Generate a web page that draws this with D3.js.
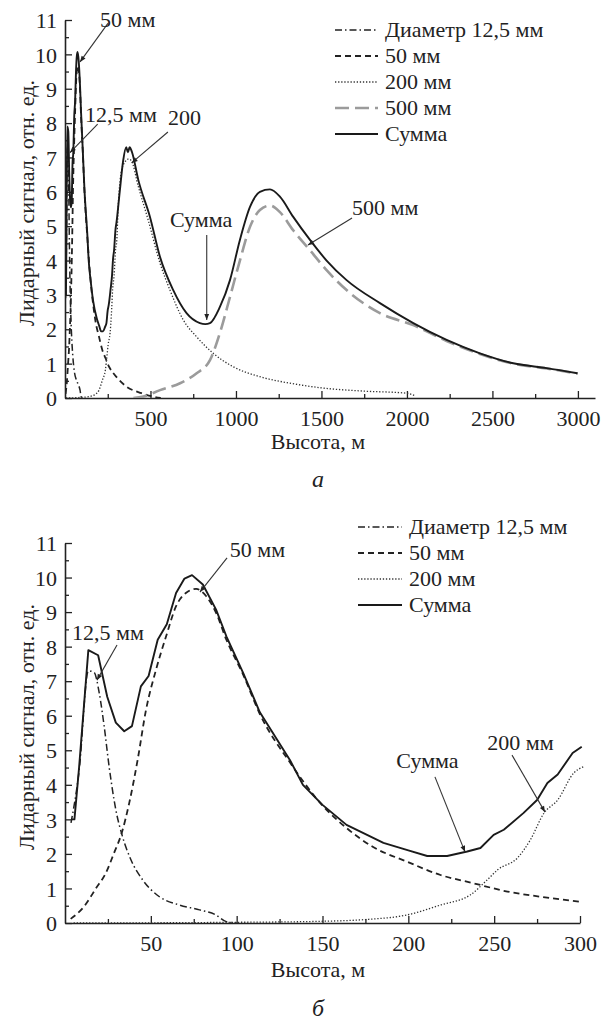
<html><head><meta charset="utf-8"><script src="https://d3js.org/d3.v7.min.js"></script></head>
<body style="margin:0">
<script>
// ---- data (height in m, signal in rel. units) ----
// panel б (0..300 m)
const sumB = [[3.5,3.0],[5.5,3.0],[8.2,4.5],[13.6,7.9],[19.3,7.75],[24.6,6.55],[29.6,5.8],[34.5,5.55],[39,5.7],
  [44.2,6.85],[48.7,7.15],[54,8.2],[59.3,8.65],[64.7,9.55],[69.6,9.97],[74,10.07],[80.3,9.8],[88,9.07],[94,8.3],
  [103.7,7.25],[113.5,6.1],[131,4.72],[138.6,4.0],[150,3.42],[164,2.84],[185.5,2.32],[200,2.1],[211,1.94],
  [222.6,1.94],[234.3,2.07],[242,2.17],[249.7,2.55],[255.6,2.7],[267,3.18],[275,3.56],[281,4.05],[287,4.3],
  [295.7,4.92],[301,5.1]];
const d125B = [[3.5,2.9],[8.2,4.4],[13.6,7.3],[17,7.25],[19.9,6.67],[22.8,5.7],[25.7,4.53],[29.6,3.28],[33.5,2.5],
  [38.4,1.83],[45.2,1.25],[55,0.76],[66.7,0.52],[78.4,0.38],[88,0.23],[94,0.04],[100,0.0]];
const d50B = [[3.3,0.12],[11,0.47],[18,1.0],[23.8,1.45],[28.6,2.03],[33,2.6],[37.4,3.47],[42.3,4.72],[47.2,6.17],
  [53,7.33],[58.9,8.3],[64.7,9.17],[70.6,9.56],[76.4,9.67],[82.3,9.46],[88,8.98],[94,8.2],[103.7,7.2],[113.5,6.05],
  [131,4.65],[150,3.4],[164,2.75],[179.5,2.2],[199,1.78],[218.7,1.39],[238,1.15],[257.7,0.91],[277,0.76],[299.4,0.62]];
const d200B = [[5,0.0],[100,0.02],[150,0.05],[175,0.1],[199,0.23],[218.7,0.52],[236,0.81],[246,1.25],[252,1.54],
  [263.5,1.88],[271,2.4],[279,3.18],[287,3.56],[296.5,4.35],[302,4.52]];

// panel а (0..3000 m): first 300 m as in panel б, then these tails
const sumTailA = [[320,6.0],[340,6.9],[358,7.3],[368,7.15],[378,7.3],[392,7.15],[429,6.34],[497,5.27],[556,4.1],
  [633,3.14],[711,2.47],[789,2.18],[820,2.15],[848,2.18],[906,2.65],[965,3.43],[1023,4.6],[1082,5.56],[1140,6.0],
  [1199,6.07],[1257,5.86],[1335,5.27],[1433,4.6],[1530,4.0],[1647,3.43],[1842,2.76],[2037,2.18],[2232,1.69],
  [2427,1.3],[2622,1.01],[2817,0.87],[2998,0.72]];
const d50TailA = [[360,0.33],[448,0.14],[507,0.05],[560,0.0]];
const d200TailA = [[312,5.65],[331,6.63],[351,6.87],[370,6.95],[386,6.92],[429,6.15],[487,5.17],[556,3.92],
  [614,3.14],[692,2.27],[770,1.78],[867,1.3],[984,0.91],[1140,0.62],[1316,0.43],[1509,0.29],[1750,0.2],
  [1998,0.14],[2050,0.06]];
const d500A = [[400,0.0],[458,0.04],[556,0.23],[673,0.43],[770,0.72],[848,1.1],[906,1.89],[965,2.94],[1023,4.0],
  [1082,4.98],[1140,5.47],[1199,5.6],[1257,5.41],[1335,4.88],[1433,4.3],[1530,3.72],[1647,3.14],[1842,2.47],
  [2037,2.12],[2232,1.66],[2427,1.28],[2622,1.0],[2817,0.86],[2998,0.71]];

const yTicks = [0,1,2,3,4,5,6,7,8,9,10,11];
const yMinor = [0.5,1.5,2.5,3.5,4.5,5.5,6.5,7.5,8.5,9.5,10.5];
const xTicksA = [500,1000,1500,2000,2500,3000];
const xMinorA = [250,750,1250,1750,2250,2750];
const xTicksB = [50,100,150,200,250,300];
const xMinorB = [25,75,125,175,225,275];

const legendA = ["Диаметр 12,5 мм", "50 мм", "200 мм", "500 мм", "Сумма"];
const legendB = ["Диаметр 12,5 мм", "50 мм", "200 мм", "Сумма"];

// annotations in data units: text position, line from -> to
const notesA = [
  { t: "50 мм",   x: 205, y: 10.8, x1: 251, y1: 10.9, x2: 88,  y2: 9.78 },
  { t: "12,5 мм", x: 117, y: 8.03, x1: 191, y1: 7.97, x2: 29,  y2: 7.14 },
  { t: "200",     x: 602, y: 7.94, x1: 602, y1: 7.74, x2: 390, y2: 6.84 },
  { t: "Сумма",   x: 614, y: 4.98, x1: 829, y1: 4.74, x2: 829, y2: 2.27 },
  { t: "500 мм",  x: 1679, y: 5.33, x1: 1679, y1: 5.24, x2: 1421, y2: 4.45 }
];
const notesB = [
  { t: "50 мм",   x: 96,  y: 10.6, x1: 94.4, y1: 10.57, x2: 78.6, y2: 9.58 },
  { t: "12,5 мм", x: 4.1, y: 8.19, x1: 30.3, y1: 8.05, x2: 18.6, y2: 7.03 },
  { t: "Сумма",   x: 193, y: 4.49, x1: 215.5, y1: 4.23, x2: 233, y2: 2.06 },
  { t: "200 мм",  x: 246, y: 5.01, x1: 260.4, y1: 4.86, x2: 279.6, y2: 3.21 }
];

// ---- styles ----
const styles = {
  d125: { stroke: "#222", width: 1.5, dash: "7,3,1.5,3" },
  d50:  { stroke: "#222", width: 1.8, dash: "6,4" },
  d200: { stroke: "#333", width: 1.3, dash: "1.3,1.8" },
  d500: { stroke: "#9b9b9b", width: 2.6, dash: "14,6" },
  sum:  { stroke: "#1a1a1a", width: 1.9, dash: null }
};
const fs = 22;

const width = 606, height = 1021;
const svg = d3.select("body").append("svg")
  .attr("width", width).attr("height", height)
  .style("font-family", "Liberation Serif");

const defs = svg.append("defs");
defs.append("marker").attr("id", "arr")
  .attr("viewBox", "0 0 10 10").attr("refX", 10).attr("refY", 5)
  .attr("markerWidth", 8).attr("markerHeight", 6).attr("orient", "auto")
  .attr("markerUnits", "userSpaceOnUse")
  .append("path").attr("d", "M0,1 L10,5 L0,9 Z").attr("fill", "#222");

// all text goes through here, font set as inline style
function label(sel, size) {
  return sel.style("font-family", "Liberation Serif").style("font-size", (size || fs) + "px")
    .style("fill", "#222");
}

function panel(cfg) {
  const g = svg.append("g");
  const x = d3.scaleLinear().domain(cfg.xDomain).range(cfg.xRange);
  const y = d3.scaleLinear().domain([0, 11]).range(cfg.yRange);

  const clipId = "clip" + cfg.id;
  defs.append("clipPath").attr("id", clipId).append("rect")
    .attr("x", cfg.xRange[0]).attr("y", cfg.yRange[1] - 5)
    .attr("width", cfg.xRange[1] - cfg.xRange[0] + 5)
    .attr("height", cfg.yRange[0] - cfg.yRange[1] + 5);

  // axes
  const yAxis = d3.axisLeft(y).tickValues(yTicks).tickSizeInner(-7).tickSizeOuter(0).tickPadding(8);
  const yAxisMinor = d3.axisLeft(y).tickValues(yMinor).tickSizeInner(-4).tickSizeOuter(0).tickFormat("");
  const xAxis = d3.axisBottom(x).tickValues(cfg.xTicks).tickFormat(d3.format("d"))
    .tickSizeInner(-7).tickSizeOuter(0).tickPadding(12);
  const xAxisMinor = d3.axisBottom(x).tickValues(cfg.xMinor).tickSizeInner(-4).tickSizeOuter(0).tickFormat("");

  const gy = g.append("g").attr("transform", "translate(" + cfg.xRange[0] + ",0)").call(yAxis);
  g.append("g").attr("transform", "translate(" + cfg.xRange[0] + ",0)").call(yAxisMinor)
    .select(".domain").remove();
  const gx = g.append("g").attr("transform", "translate(0," + cfg.yRange[0] + ")").call(xAxis);
  g.append("g").attr("transform", "translate(0," + cfg.yRange[0] + ")").call(xAxisMinor)
    .select(".domain").remove();

  g.selectAll("g").attr("font-family", null).attr("font-size", null);
  g.selectAll(".domain").attr("stroke", "#222").attr("stroke-width", 1.6);
  g.selectAll(".tick line").attr("stroke", "#222").attr("stroke-width", 1.3);
  label(gy.selectAll(".tick text")).attr("dy", "0.35em");
  label(gx.selectAll(".tick text"));

  // axis titles
  label(g.append("text"))
    .attr("transform", "translate(34," + ((cfg.yRange[0] + cfg.yRange[1]) / 2 - 6) + ") rotate(-90)")
    .attr("text-anchor", "middle")
    .text("Лидарный сигнал, отн. ед.");
  label(g.append("text")).attr("x", 318).attr("y", cfg.xTitleY)
    .attr("text-anchor", "middle")
    .text("Высота, м");
  label(g.append("text"), 24).attr("x", 318).attr("y", cfg.letterY)
    .attr("text-anchor", "middle").style("font-style", "italic")
    .text(cfg.letter);

  // curves
  const line = d3.line().x(d => x(d[0])).y(d => y(d[1]));
  const plot = g.append("g").attr("clip-path", "url(#" + clipId + ")");
  cfg.series.forEach(s => {
    const st = styles[s.key];
    plot.append("path").datum(s.data)
      .attr("d", line.curve(s.curve || d3.curveMonotoneX))
      .attr("fill", "none")
      .attr("stroke", st.stroke)
      .attr("stroke-width", st.width)
      .attr("stroke-dasharray", st.dash)
      .attr("stroke-linejoin", "round");
  });

  // annotations
  cfg.notes.forEach(n => {
    g.append("line")
      .attr("x1", x(n.x1)).attr("y1", y(n.y1))
      .attr("x2", x(n.x2)).attr("y2", y(n.y2))
      .attr("stroke", "#333").attr("stroke-width", 1.1)
      .attr("marker-end", "url(#arr)");
    label(g.append("text")).attr("x", x(n.x)).attr("y", y(n.y))
      .text(n.t);
  });

  // legend
  const lg = g.append("g").attr("transform", "translate(" + cfg.legend.x + "," + cfg.legend.y + ")");
  cfg.legend.items.forEach((t, i) => {
    const st = styles[cfg.legend.keys[i]];
    const row = lg.append("g").attr("transform", "translate(0," + (i * 26) + ")");
    row.append("line").attr("x1", 0).attr("x2", cfg.legend.len).attr("y1", 0).attr("y2", 0)
      .attr("stroke", st.stroke).attr("stroke-width", st.width).attr("stroke-dasharray", st.dash);
    label(row.append("text")).attr("x", cfg.legend.len + 7).attr("y", 0).attr("dy", "0.33em")
      .text(t);
  });
}

const first300 = arr => arr.filter(d => d[0] <= 302);

panel({
  id: "A",
  xDomain: [0, 3100], xRange: [65, 595],
  yRange: [398, 20],
  xTicks: xTicksA, xMinor: xMinorA,
  xTitleY: 449, letterY: 487, letter: "а",
  series: [
    { key: "d125", data: d125B },
    { key: "d50", data: first300(d50B).concat(d50TailA) },
    { key: "d200", data: first300(d200B).concat(d200TailA) },
    { key: "d500", data: d500A },
    { key: "sum", data: first300(sumB).concat(sumTailA) }
  ],
  notes: notesA,
  legend: { x: 335, y: 30, len: 43, items: legendA, keys: ["d125", "d50", "d200", "d500", "sum"] }
});

panel({
  id: "B",
  xDomain: [0, 300], xRange: [65, 580],
  yRange: [923, 543],
  xTicks: xTicksB, xMinor: xMinorB,
  xTitleY: 977, letterY: 1016, letter: "б",
  series: [
    { key: "d125", data: d125B },
    { key: "d50", data: d50B },
    { key: "d200", data: d200B },
    { key: "sum", data: sumB, curve: d3.curveLinear }
  ],
  notes: notesB,
  legend: { x: 358, y: 527, len: 44, items: legendB, keys: ["d125", "d50", "d200", "sum"] }
});
</script>
</body>
</html>
